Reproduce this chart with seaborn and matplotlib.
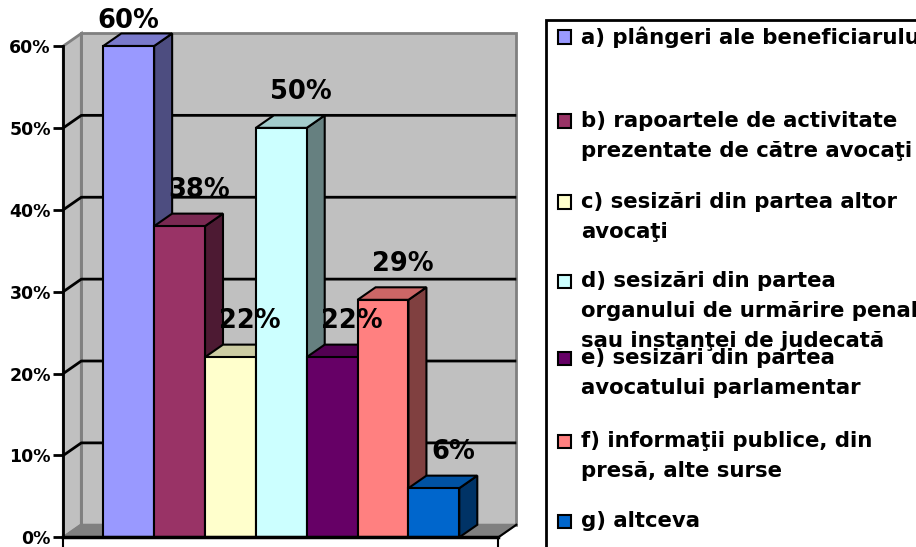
import matplotlib
matplotlib.use("Agg")
import matplotlib.pyplot as plt
import seaborn as sns
from matplotlib.colors import to_rgb
from matplotlib.patches import Polygon, Rectangle

# data
categories = ["a", "b", "c", "d", "e", "f", "g"]
values = [0.60, 0.38, 0.22, 0.50, 0.22, 0.29, 0.06]
colors = ["#9999FF", "#993366", "#FFFFCC", "#CCFFFF", "#660066", "#FF8080", "#0066CC"]
legend_labels = [
    "a) plângeri ale beneficiarului",
    "b) rapoartele de activitate\nprezentate de către avocaţi",
    "c) sesizări din partea altor\navocaţi",
    "d) sesizări din partea\norganului de urmărire penală\nsau instanţei de judecată",
    "e) sesizări din partea\navocatului parlamentar",
    "f) informaţii publice, din\npresă, alte surse",
    "g) altceva",
]
yticks = [0.0, 0.1, 0.2, 0.3, 0.4, 0.5, 0.6]

plt.rcParams["font.family"] = ["DejaVu Sans"]
plt.rcParams["font.weight"] = "bold"

W, H = 916, 547
fig = plt.figure(figsize=(W / 100, H / 100), dpi=100)
ax = fig.add_axes([63.3 / W, 9.7 / H, 435 / W, 491.3 / H])

xmin, xmax = -1.286, 7.267
ymax = 0.6
dx, dy = 0.354, 0.0153  # depth of the fake 3d

sns.barplot(x=categories, y=values, hue=categories, palette=colors, width=1.0,
            saturation=1, edgecolor="black", linewidth=1.5, legend=False, ax=ax)
ax.set_xlim(xmin, xmax)
ax.set_ylim(0, ymax)

# walls and floor
wall = "#C0C0C0"
edge = "#808080"
ax.add_patch(Rectangle((xmin + dx, dy), xmax - xmin, ymax, facecolor=wall,
                       edgecolor=edge, lw=2, zorder=0.5, clip_on=False))
ax.add_patch(Polygon([(xmin, 0), (xmin + dx, dy), (xmin + dx, ymax + dy), (xmin, ymax)],
                     facecolor=wall, edgecolor=edge, lw=2, zorder=0.6, clip_on=False))
ax.add_patch(Polygon([(xmin, 0), (xmax, 0), (xmax + dx, dy), (xmin + dx, dy)],
                     facecolor="#808080", edgecolor=edge, lw=1.5, zorder=0.7, clip_on=False))
ax.plot([xmax, xmax + dx], [0, dy], color="black", lw=1.5, zorder=0.8, clip_on=False)

for v in yticks[1:-1]:
    ax.plot([xmin, xmin + dx, xmax + dx], [v, v + dy, v + dy], color="black",
            lw=2, zorder=0.9, clip_on=False, solid_capstyle="butt")

# 3d sides and tops of the bars
bars = sorted(ax.patches[:len(values)], key=lambda p: p.get_x())
for i, p in enumerate(bars):
    x0, w, h = p.get_x(), p.get_width(), p.get_height()
    base = to_rgb(colors[i])
    top_c = tuple(c * 0.8 for c in base)
    side_c = tuple(c * 0.5 for c in base)
    ax.add_patch(Polygon([(x0 + w, 0), (x0 + w + dx, dy), (x0 + w + dx, h + dy), (x0 + w, h)],
                         facecolor=side_c, edgecolor="black", lw=1.5,
                         zorder=3 + 2 * i, clip_on=False, joinstyle="miter"))
    ax.add_patch(Polygon([(x0, h), (x0 + w, h), (x0 + w + dx, h + dy), (x0 + dx, h + dy)],
                         facecolor=top_c, edgecolor="black", lw=1.5,
                         zorder=3 + 2 * i, clip_on=False, joinstyle="miter"))
    p.set_zorder(4 + 2 * i)
    p.set_clip_on(False)

    lx = x0 + w / 2 + (0 if values[i] == max(values) else 0.39)
    ly = min(values[i] + 0.044, 0.631)
    ax.text(lx, ly, f"{values[i]:.0%}", ha="center", va="center", fontsize=18.5,
            fontweight="bold", zorder=40, clip_on=False)

# axes
for s in ["top", "right"]:
    ax.spines[s].set_visible(False)
ax.spines["left"].set_linewidth(2)
ax.spines["bottom"].set_linewidth(2.5)
ax.spines["left"].set_zorder(30)
ax.spines["bottom"].set_zorder(30)
ax.set_yticks(yticks)
ax.set_yticklabels([f"{t:.0%}" for t in yticks])
ax.tick_params(axis="y", direction="out", length=7, width=2, labelsize=12.5, pad=2)
ax.set_xticks([xmin, xmax])
ax.set_xticklabels([])
ax.tick_params(axis="x", direction="out", length=8, width=1.5)
ax.set_xlabel("")
ax.set_ylabel("")
for lab in ax.get_yticklabels():
    lab.set_fontweight("bold")
ax.patch.set_alpha(0)

# legend, drawn by hand to keep the original line placement
def fx(px):
    return px / W


def fy(py):
    return 1 - py / H


fig.add_artist(Rectangle((fx(546), fy(H + 10)), fx(W + 20 - 546), (H + 10 - 20) / H,
                         transform=fig.transFigure, facecolor="white",
                         edgecolor="black", lw=2))
first_line = [37, 121, 202, 281, 358, 441, 521]
step = 30
for i, lab in enumerate(legend_labels):
    y0 = first_line[i]
    fig.add_artist(Rectangle((fx(558), fy(y0 + 6.5)), 13 / W, 13 / H,
                             transform=fig.transFigure, facecolor=colors[i],
                             edgecolor="black", lw=1.5))
    for j, line in enumerate(lab.split("\n")):
        fig.text(fx(581), fy(y0 + j * step), line, ha="left", va="center",
                 fontsize=15.3, fontweight="bold")

fig.savefig("out.png", dpi=100)
